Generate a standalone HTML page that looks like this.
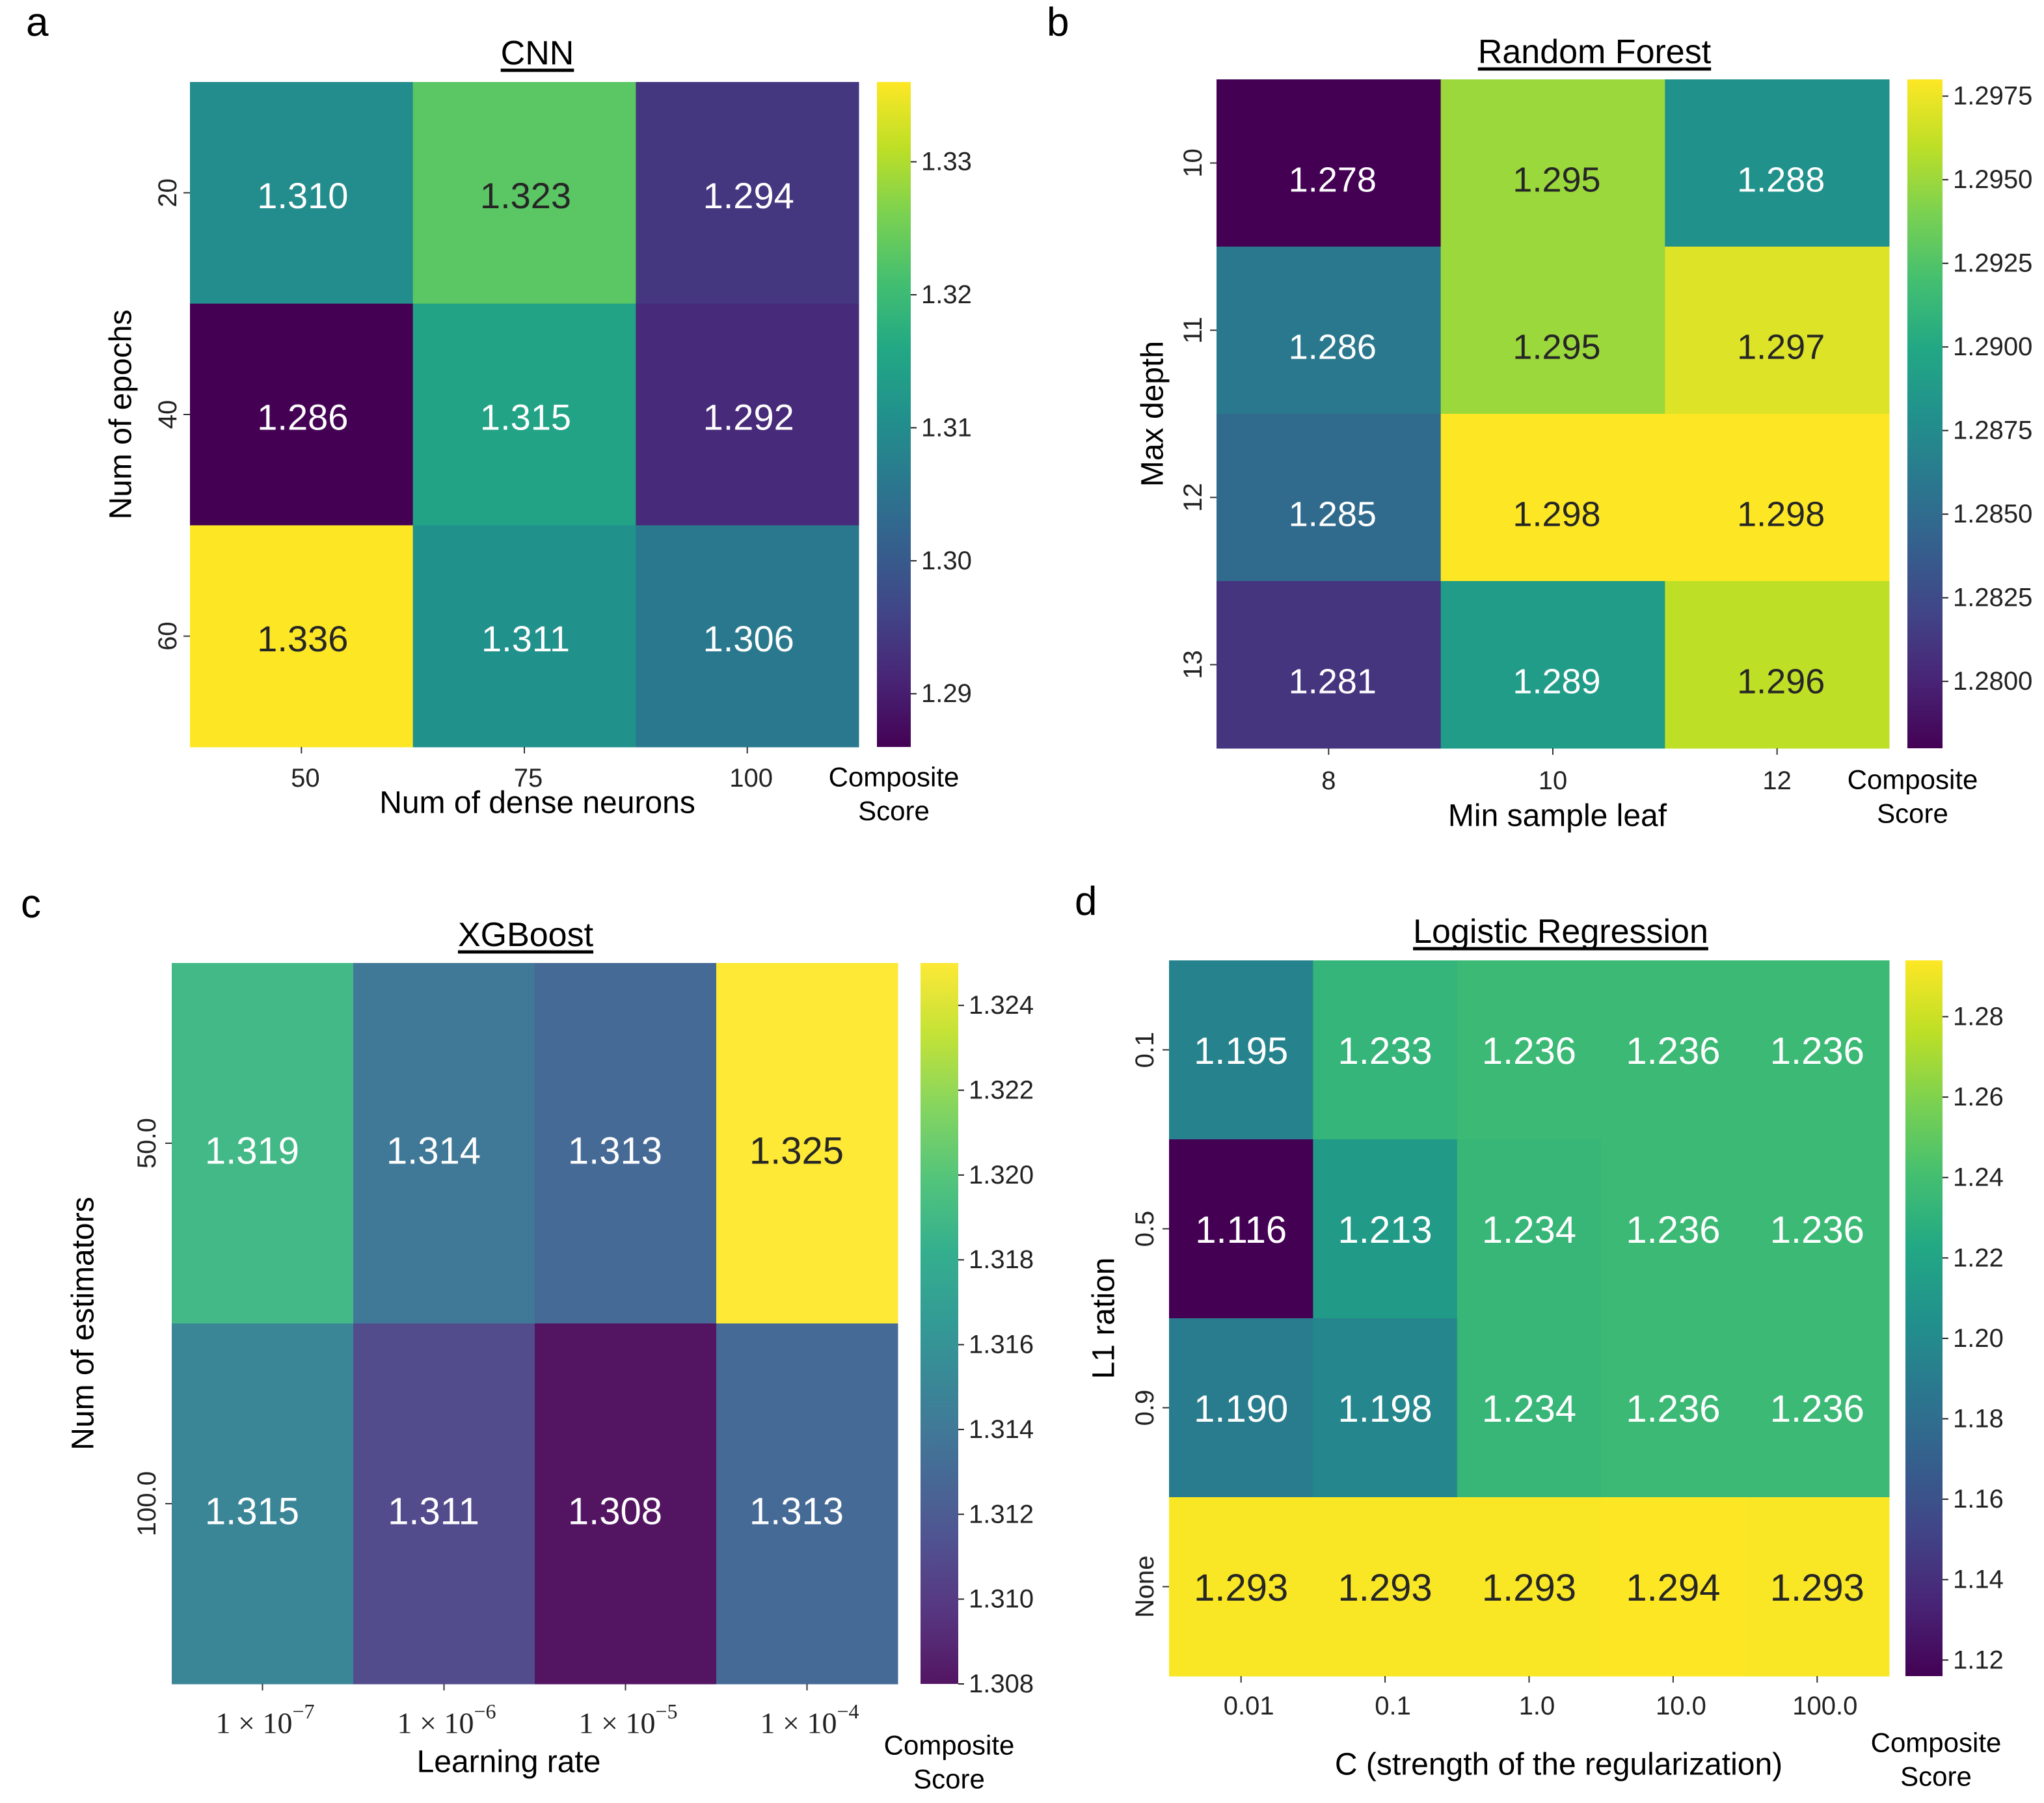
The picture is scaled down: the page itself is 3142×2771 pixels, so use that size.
<!DOCTYPE html>
<html><head><meta charset="utf-8">
<style>
html,body{margin:0;padding:0;background:#fff;}
svg{display:block;font-family:"Liberation Sans",Arial,sans-serif;}
</style></head>
<body>
<svg id="fig" width="3142" height="2771" viewBox="0 0 3142 2771" xmlns="http://www.w3.org/2000/svg">
<rect width="3142" height="2771" fill="#fff"/>
<text x="40" y="55" font-size="62">a</text>
<text x="1609" y="55" font-size="62">b</text>
<text x="32" y="1410" font-size="62">c</text>
<text x="1652" y="1406" font-size="62">d</text>
</svg>
<script>
// ---- CNN data ----
const cnnCols = ["50","75","100"];
const cnnRows = ["20","40","60"];
const cnnValues = [[1.310,1.323,1.294],[1.286,1.315,1.292],[1.336,1.311,1.306]];
const cnnTicks = [1.29,1.30,1.31,1.32,1.33];
const cnnTickLabels = ["1.29","1.30","1.31","1.32","1.33"];
// ---- Random Forest data ----
const rfCols = ["8","10","12"];
const rfRows = ["10","11","12","13"];
const rfValues = [[1.278,1.295,1.288],[1.286,1.295,1.297],[1.285,1.298,1.298],[1.281,1.289,1.296]];
const rfTicks = [1.28,1.2825,1.285,1.2875,1.29,1.2925,1.295,1.2975];
const rfTickLabels = ["1.2800","1.2825","1.2850","1.2875","1.2900","1.2925","1.2950","1.2975"];
// ---- XGBoost data ----
const xgbCols = ["-7","-6","-5","-4"];
const xgbRows = ["50.0","100.0"];
const xgbValues = [[1.319,1.314,1.313,1.325],[1.315,1.311,1.308,1.313]];
const xgbTicks = [1.308,1.310,1.312,1.314,1.316,1.318,1.320,1.322,1.324];
const xgbTickLabels = ["1.308","1.310","1.312","1.314","1.316","1.318","1.320","1.322","1.324"];
// ---- Logistic Regression data ----
const lrCols = ["0.01","0.1","1.0","10.0","100.0"];
const lrRows = ["0.1","0.5","0.9","None"];
const lrValues = [[1.195,1.233,1.236,1.236,1.236],[1.116,1.213,1.234,1.236,1.236],[1.190,1.198,1.234,1.236,1.236],[1.293,1.293,1.293,1.294,1.293]];
const lrTicks = [1.12,1.14,1.16,1.18,1.20,1.22,1.24,1.26,1.28];
const lrTickLabels = ["1.12","1.14","1.16","1.18","1.20","1.22","1.24","1.26","1.28"];

const NS="http://www.w3.org/2000/svg";
const svg=document.getElementById('fig');
const VIR=[[68,1,84],[72,36,117],[65,68,135],[53,95,141],[42,120,142],[33,145,140],[34,168,132],[68,191,112],[122,209,81],[189,223,38],[253,231,37]];
function vir(t){t=Math.max(0,Math.min(1,t));const p=t*10,i=Math.min(9,Math.floor(p)),f=p-i;const a=VIR[i],b=VIR[i+1];
 return [0,1,2].map(k=>Math.round(a[k]+(b[k]-a[k])*f));}
function fade(c,a){return c.map(v=>Math.round(v*a+255*(1-a)));}
function rgb(c){return `rgb(${c[0]},${c[1]},${c[2]})`;}
function lum(c){const l=c.map(v=>{v/=255;return v<=0.03928?v/12.92:Math.pow((v+0.055)/1.055,2.4)});return 0.2126*l[0]+0.7152*l[1]+0.0722*l[2];}
function mk(tag,attrs,parent){const e=document.createElementNS(NS,tag);for(const k in attrs)e.setAttribute(k,attrs[k]);(parent||svg).appendChild(e);return e;}
let gid=0;
function heatmap(o){
 const g=mk('g',{});
 
 
 const alpha=o.alpha||1;
 const col=t=>fade(vir(t),alpha);
 const flat=o.values.flat(),vmin=Math.min(...flat),vmax=Math.max(...flat);
 const nR=o.rows.length,nC=o.cols.length;
 const cw=(o.x1-o.x0)/nC,ch=(o.y1-o.y0)/nR;
 const xAt=j=>o.x0+cw*(j+0.5), yAt=i=>o.y0+ch*(i+0.5);
 const norm=v=>(v-vmin)/(vmax-vmin);
 o.values.forEach((row,i)=>row.forEach((v,j)=>{
  const c=col(norm(v));
  const r=mk('rect',{x:o.x0+cw*j,y:o.y0+ch*i,width:cw+0.5,height:ch+0.5,fill:rgb(c)},g);
  
  
  const t=mk('text',{x:xAt(j)+o.annDx,y:yAt(i)+o.annDy,'font-size':o.annFs,'text-anchor':'middle','dominant-baseline':'central',fill:lum(vir(norm(v)))>0.408?'#262626':'#ffffff'},g);
  t.textContent=v.toFixed(3);
  
  
 }));
 const tt=mk('text',{x:o.titleX,y:o.titleY,'font-size':52,'text-anchor':'middle','dominant-baseline':'central'},g);
 tt.textContent=o.title;
 
 
 const tw=tt.getComputedTextLength();
 const ul=mk('line',{x1:o.titleX-tw/2,x2:o.titleX+tw/2,y1:o.titleY+26,y2:o.titleY+26,stroke:'#000','stroke-width':5},g);
 
 
 o.rows.forEach((lab,i)=>{
  const y=yAt(i);
  const tk=mk('line',{x1:o.x0-10,x2:o.x0,y1:y,y2:y,stroke:'#333','stroke-width':2},g);
  
  
  const t=mk('text',{x:o.ytx,y:y,'font-size':40,'text-anchor':'middle','dominant-baseline':'central',transform:`rotate(-90 ${o.ytx} ${y})`,fill:'#222'},g);
  t.textContent=lab;
  
  
 });
 o.cols.forEach((lab,j)=>{
  const x=xAt(j);
  const tk=mk('line',{x1:x,x2:x,y1:o.y1,y2:o.y1+10,stroke:'#333','stroke-width':2},g);
  
  
  const t=mk('text',{x:x+o.xtOff,y:o.xty,'font-size':40,'text-anchor':'middle','dominant-baseline':'central',fill:'#222'},g);
  if(o.sci){
   t.setAttribute('font-family','"Liberation Serif",serif');
   t.setAttribute('font-size','46');
   t.textContent='1 \u00d7 10';
   const s=mk('tspan',{dy:-18,'font-size':32},t);
   s.textContent='\u2212'+lab.replace('-','');
  } else t.textContent=lab;
  
  
 });
 const xt=mk('text',{x:o.xTitleX,y:o.xTitleY,'font-size':48,'text-anchor':'middle','dominant-baseline':'central'},g);
 xt.textContent=o.xTitle;
 
 
 const yc=(o.y0+o.y1)/2;
 const yt=mk('text',{x:o.yTitleX,y:yc,'font-size':48,'text-anchor':'middle','dominant-baseline':'central',transform:`rotate(-90 ${o.yTitleX} ${yc})`},g);
 yt.textContent=o.yTitle;
 
 
 const id='grad'+(gid++);
 const defs=mk('defs',{},g);
 const lg=mk('linearGradient',{id:id,x1:0,y1:1,x2:0,y2:0},defs);
 for(let k=0;k<=20;k++){mk('stop',{offset:k/20,'stop-color':rgb(col(k/20))},lg);}
 const cb=mk('rect',{x:o.cbx0,y:o.y0,width:o.cbx1-o.cbx0,height:o.y1-o.y0,fill:`url(#${id})`},g);
 
 
 const cbY=v=>o.y1-(v-vmin)/(vmax-vmin)*(o.y1-o.y0);
 o.ticks.forEach((v,k)=>{
  const y=cbY(v);
  const tk=mk('line',{x1:o.cbx1,x2:o.cbx1+9,y1:y,y2:y,stroke:'#222','stroke-width':2},g);
  
  
  const t=mk('text',{x:o.cbx1+16,y:y,'font-size':40,'dominant-baseline':'central',fill:'#222'},g);
  t.textContent=o.tickLabels[k];
  
  
 });
 ['Composite','Score'].forEach((w,k)=>{
  const t=mk('text',{x:o.csX,y:o.csY+52*k,'font-size':42,'text-anchor':'middle','dominant-baseline':'central'},g);
  t.textContent=w;
  
  
 });
}
heatmap({name:'cnn',rows:cnnRows,cols:cnnCols,values:cnnValues,ticks:cnnTicks,tickLabels:cnnTickLabels,
 x0:292,x1:1320,y0:126,y1:1148,annFs:56,annDx:2,annDy:4,title:'CNN',titleX:826,titleY:82,ytx:258,xty:1196,xtOff:6,
 xTitle:'Num of dense neurons',xTitleX:826,xTitleY:1234,yTitle:'Num of epochs',yTitleX:186,
 cbx0:1348,cbx1:1400,csX:1374,csY:1194});
heatmap({name:'random-forest',rows:rfRows,cols:rfCols,values:rfValues,ticks:rfTicks,tickLabels:rfTickLabels,
 x0:1870,x1:2904,y0:122,y1:1150,annFs:54,annDx:6,annDy:26,title:'Random Forest',titleX:2451,titleY:80,ytx:1834,xty:1200,xtOff:0,
 xTitle:'Min sample leaf',xTitleX:2394,xTitleY:1254,yTitle:'Max depth',yTitleX:1772,
 cbx0:2932,cbx1:2986,csX:2940,csY:1198});
heatmap({name:'xgboost',rows:xgbRows,cols:xgbCols,values:xgbValues,ticks:xgbTicks,tickLabels:xgbTickLabels,sci:true,alpha:0.92,
 x0:264,x1:1380,y0:1480,y1:2588,annFs:58,annDx:-16,annDy:12,title:'XGBoost',titleX:808,titleY:1437,ytx:226,xty:2648,xtOff:4,
 xTitle:'Learning rate',xTitleX:782,xTitleY:2708,yTitle:'Num of  estimators',yTitleX:128,
 cbx0:1415,cbx1:1473,csX:1459,csY:2682});
heatmap({name:'logistic-regression',rows:lrRows,cols:lrCols,values:lrValues,ticks:lrTicks,tickLabels:lrTickLabels,
 x0:1797,x1:2904,y0:1476,y1:2576,annFs:58,annDx:0,annDy:2,title:'Logistic Regression',titleX:2399,titleY:1432,ytx:1760,xty:2622,xtOff:12,
 xTitle:'C (strength of the regularization)',xTitleX:2396,xTitleY:2712,yTitle:'L1 ration',yTitleX:1697,
 cbx0:2929,cbx1:2986,csX:2976,csY:2678});
</script>
</body></html>
